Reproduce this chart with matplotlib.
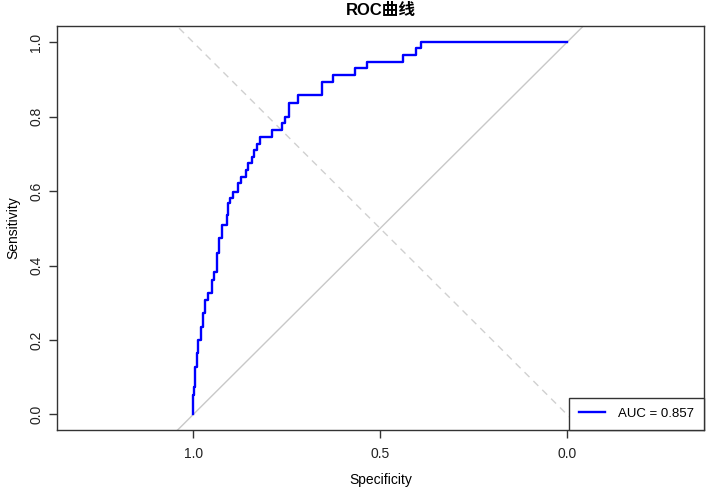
import matplotlib
matplotlib.use("Agg")
import matplotlib.pyplot as plt
import numpy as np

plt.rcParams['font.family'] = ['Liberation Sans', 'Noto Sans CJK SC', 'DejaVu Sans']

# ROC curve corner points (tread end specificity, tread height sensitivity)
specificity = [1.000, 0.997, 0.995, 0.991, 0.987, 0.980, 0.973, 0.969, 0.960, 0.951,
               0.945, 0.937, 0.931, 0.924, 0.911, 0.906, 0.902, 0.893, 0.881, 0.873,
               0.859, 0.854, 0.844, 0.837, 0.830, 0.821, 0.790, 0.763, 0.754, 0.743,
               0.719, 0.656, 0.625, 0.567, 0.536, 0.438, 0.404, 0.391, 0.000]
sensitivity = [0.000, 0.052, 0.074, 0.128, 0.164, 0.200, 0.235, 0.272, 0.307, 0.327,
               0.361, 0.383, 0.433, 0.473, 0.509, 0.536, 0.567, 0.581, 0.598, 0.621,
               0.637, 0.657, 0.675, 0.692, 0.710, 0.728, 0.746, 0.764, 0.782, 0.800,
               0.838, 0.858, 0.894, 0.912, 0.930, 0.948, 0.966, 0.984, 1.000]
auc = 0.857
x_ticks = [1.0, 0.5, 0.0]
y_ticks = [0.0, 0.2, 0.4, 0.6, 0.8, 1.0]

W, H = 708, 491
fig = plt.figure(figsize=(W / 100, H / 100), dpi=100)
ax = fig.add_axes([57 / W, (H - 430) / H, (704 - 57) / W, (430 - 26) / H])

ax.set_xlim(1.365, -0.367)
ax.set_ylim(-0.042, 1.044)

# reference diagonals
ax.axline((1, 0), (0, 1), color='#c8c8c8', lw=1.0, zorder=1)
ax.axline((0, 0), (1, 1), color='#d0d0d0', lw=1.0, ls=(0, (5, 4)), zorder=1)

ax.plot(specificity, sensitivity, drawstyle='steps-pre', color='#0000ff', lw=1.7,
        label='AUC = %.3f' % auc, zorder=3)

for s in ax.spines.values():
    s.set_color('#333333')
    s.set_linewidth(1.0)

ax.set_xticks(x_ticks)
ax.set_xticklabels(['%.1f' % v for v in x_ticks])
ax.set_yticks(y_ticks)
ax.set_yticklabels(['%.1f' % v for v in y_ticks], rotation=90, va='center')
ax.tick_params(direction='out', length=6, width=1, color='#333333',
               labelsize=10, labelcolor='#222222')
ax.tick_params(axis='x', pad=6)
ax.tick_params(axis='y', pad=4)

ax.set_xlabel('Specificity', fontsize=10, labelpad=9)
ax.set_ylabel('Sensitivity', fontsize=10, labelpad=6)
ax.set_title('ROC曲线', fontsize=12, fontweight='bold', pad=8)

leg = ax.legend(loc='lower right', borderaxespad=0, fancybox=False, framealpha=1,
                edgecolor='#333333', fontsize=9.5, handlelength=2.0,
                handletextpad=1.0, borderpad=0.75)
leg.get_frame().set_linewidth(1.0)

fig.savefig('out.png', dpi=100)
